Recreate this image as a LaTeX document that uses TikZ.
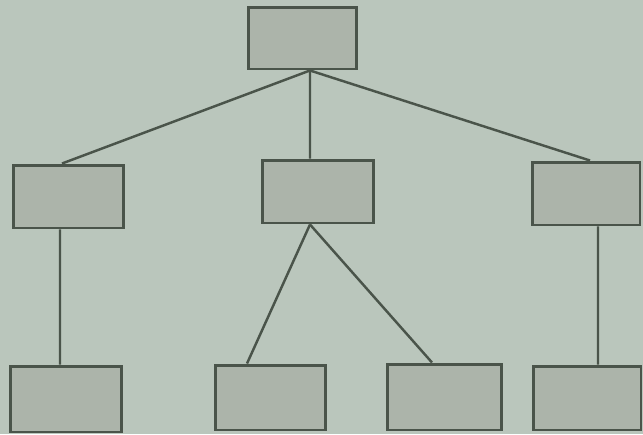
\documentclass[tikz,border=0pt]{standalone}
\definecolor{paper}{RGB}{186,198,188}
\definecolor{boxfill}{RGB}{172,180,170}
\definecolor{ink}{RGB}{74,84,74}
\begin{document}
\begin{tikzpicture}[x=0.02cm,y=-0.02cm,
  blank/.style={draw=ink,fill=boxfill,line width=1.7pt,inner sep=0pt,minimum width=2.22cm,minimum height=1.26cm},
  link/.style={draw=ink,line width=1.4pt}]
\fill[paper] (0,0) rectangle (643,434);
\useasboundingbox (0,0) rectangle (643,434);
\node[blank,minimum width=2.18cm,minimum height=1.24cm] (top) at (302.5,38) {};
\node[blank] (L) at (68.5,196.5) {};
\node[blank,minimum width=2.24cm] (C) at (318,191.5) {};
\node[blank,minimum width=2.16cm] (R) at (586,193.5) {};
\node[blank,minimum width=2.24cm,minimum height=1.32cm] (B1) at (66,399) {};
\node[blank,minimum height=1.3cm] (B2) at (270.5,397.5) {};
\node[blank,minimum width=2.3cm,minimum height=1.32cm] (B3) at (444.5,397) {};
\node[blank,minimum width=2.16cm,minimum height=1.28cm] (B4) at (587,398) {};
\coordinate (hub) at ([xshift=0.15cm]top.south);
\coordinate (chub) at ([xshift=-0.16cm]C.south);
\draw[link] (hub) -- ([xshift=-0.13cm]L.north);
\draw[link] (hub) -- ([xshift=-0.16cm]C.north);
\draw[link] (hub) -- ([xshift=0.08cm]R.north);
\draw[link] ([xshift=-0.17cm]L.south) -- ([xshift=-0.12cm]B1.north);
\draw[link] (chub) -- ([xshift=-0.47cm]B2.north);
\draw[link] (chub) -- ([xshift=-0.25cm]B3.north);
\draw[link] ([xshift=0.24cm]R.south) -- ([xshift=0.22cm]B4.north);
\end{tikzpicture}
\end{document}
